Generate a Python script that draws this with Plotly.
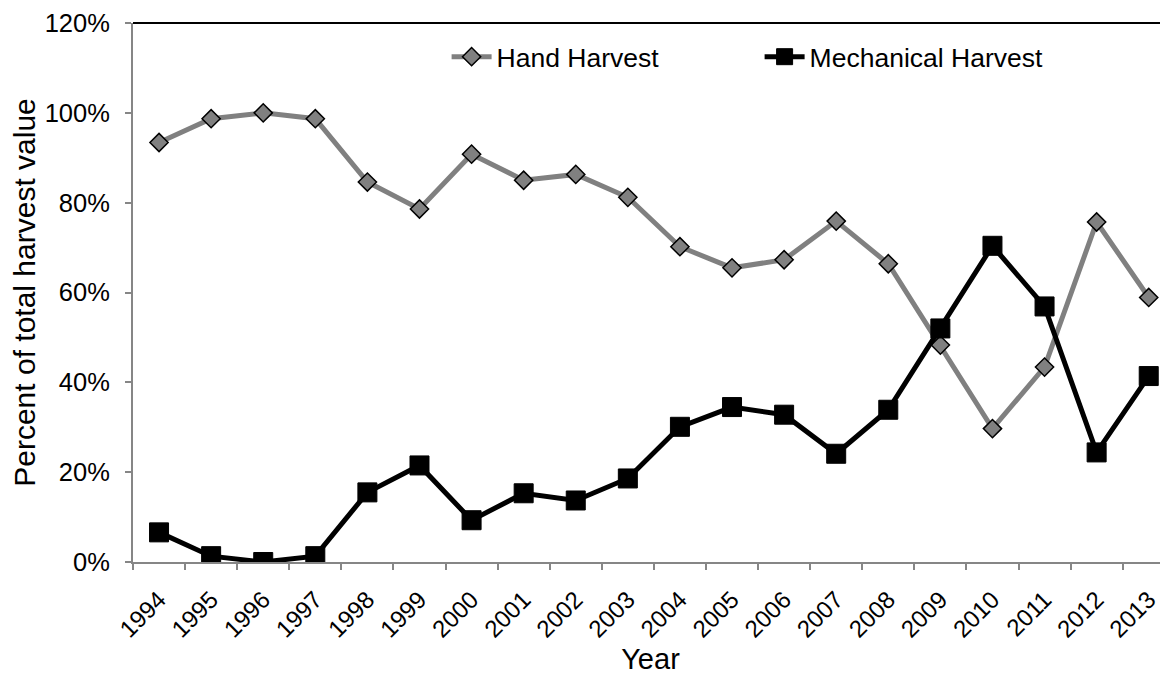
import plotly.graph_objects as go

years = [str(y) for y in range(1994, 2014)]
hand = [93.4, 98.7, 100.0, 98.7, 84.6, 78.6, 90.8, 85.0, 86.3, 81.2,
        70.2, 65.5, 67.3, 75.9, 66.4, 48.3, 29.7, 43.4, 75.7, 58.9]
mech = [6.6, 1.3, 0.0, 1.3, 15.5, 21.5, 9.3, 15.3, 13.7, 18.6,
        30.1, 34.5, 32.8, 24.1, 33.9, 52.0, 70.4, 56.9, 24.4, 41.4]
y_ticks = [0, 0.2, 0.4, 0.6, 0.8, 1.0, 1.2]
y_ticktext = ["0%", "20%", "40%", "60%", "80%", "100%", "120%"]

hand_f = [v / 100 for v in hand]
mech_f = [v / 100 for v in mech]

FONT = "Liberation Sans, Arial, sans-serif"

fig = go.Figure()
fig.add_trace(go.Scatter(
    x=years, y=hand_f, name="Hand Harvest", mode="lines+markers",
    line=dict(color="#808080", width=5),
    marker=dict(symbol="diamond", size=14, color="#808080",
                line=dict(color="black", width=1.5)),
))
fig.add_trace(go.Scatter(
    x=years, y=mech_f, name="Mechanical Harvest", mode="lines+markers",
    line=dict(color="black", width=5),
    marker=dict(symbol="square", size=19, color="black",
                line=dict(color="black", width=1)),
))

fig.add_shape(type="line", xref="paper", yref="paper", x0=0, x1=1, y0=1, y1=1,
              line=dict(color="black", width=2))

fig.update_layout(
    width=1160, height=667,
    margin=dict(l=125, r=0, t=15, b=113, autoexpand=False),
    paper_bgcolor="white", plot_bgcolor="white",
    font=dict(family=FONT, size=24, color="black"),
    showlegend=True,
    legend=dict(orientation="h", x=0.303, y=0.937, xanchor="left", yanchor="middle",
                font=dict(size=26.5), bgcolor="rgba(0,0,0,0)",
                entrywidth=258, entrywidthmode="pixels", itemwidth=40),
    xaxis=dict(
        type="category", range=[-0.5, 19.37],
        showline=True, linecolor="#868686", linewidth=2,
        ticks="outside", tickson="boundaries", ticklen=6, tickcolor="#868686", tickwidth=2,
        tickangle=-45, tickfont=dict(size=24), ticklabelstandoff=12,
        showgrid=False, zeroline=False, automargin=False,
        title=dict(text="Year", font=dict(size=29), standoff=8),
    ),
    yaxis=dict(
        range=[0, 1.2001], tickmode="array", tickvals=y_ticks, ticktext=y_ticktext,
        showline=True, linecolor="#868686", linewidth=2,
        ticks="outside", ticklen=6, tickcolor="#868686", tickwidth=2,
        tickfont=dict(size=25.5), ticklabelstandoff=10, ticklabeloverflow="allow",
        showgrid=False, zeroline=False, automargin=False,
        title=dict(text="Percent of total harvest value", font=dict(size=30), standoff=8),
    ),
)

fig.write_html("out.html")
